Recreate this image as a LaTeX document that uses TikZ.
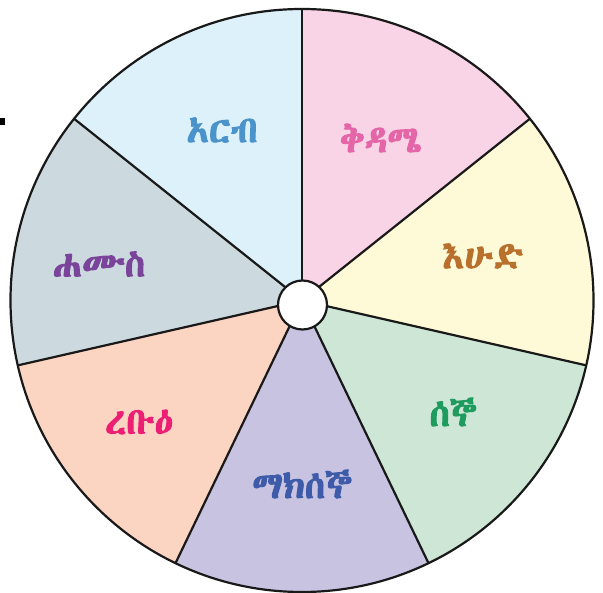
\documentclass[tikz,border=0pt]{standalone}
\usepackage{fontspec}
\IfFontExistsTF{Abyssinica SIL}{\newfontfamily\ethfont[FakeBold=2.5]{Abyssinica SIL}}{%
 \IfFontExistsTF{FreeSans}{\newfontfamily\ethfont[FakeBold=2.5]{FreeSans}}{%
  \IfFontExistsTF{FreeSerif}{\newfontfamily\ethfont[FakeBold=2.5]{FreeSerif}}{\newfontfamily\ethfont[FakeBold=2.5]{DejaVu Sans}}}}
\definecolor{fri}{HTML}{DDF1FA}
\definecolor{sat}{HTML}{F9D3E6}
\definecolor{sun}{HTML}{FEF9D6}
\definecolor{mon}{HTML}{CDE6D5}
\definecolor{tue}{HTML}{C7C3E1}
\definecolor{wed}{HTML}{FCD4C2}
\definecolor{thu}{HTML}{CCDADF}
\definecolor{frit}{HTML}{4A93CB}
\definecolor{satt}{HTML}{E566A8}
\definecolor{sunt}{HTML}{B8702C}
\definecolor{mont}{HTML}{1E9B5E}
\definecolor{tuet}{HTML}{3E5BA9}
\definecolor{wedt}{HTML}{EC1F75}
\definecolor{thut}{HTML}{7A449B}
\tikzset{
  day/.style={font=\ethfont\fontsize{37}{40}\selectfont, inner sep=0pt, anchor=center}
}
\begin{document}
\begin{tikzpicture}[x=1pt,y=1pt]
\useasboundingbox (0,0) rectangle (603,-593);
\coordinate (C) at (302,-300.5);
\def\R{291.5pt}
\foreach \i/\col in {0/sat,1/sun,2/mon,3/tue,4/wed,5/thu,6/fri}{
  \pgfmathsetmacro{\a}{90-\i*360/7}
  \pgfmathsetmacro{\b}{90-(\i+1)*360/7}
  \fill[\col] (C) -- ++(\a:\R) arc[start angle=\a, end angle=\b, radius=\R] -- cycle;
}
\foreach \i in {0,...,6}{
  \pgfmathsetmacro{\a}{90-\i*360/7}
  \draw[black!90, line width=2.2pt] (C) -- ++(\a:\R);
}
\draw[black!90, line width=2.2pt] (C) circle[radius=\R];
\node[circle, draw=black!90, line width=2.2pt, fill=white, minimum size=49pt, inner sep=0pt] (hub) at (302.5,-305) {};
\node[day, text=frit] (fri) at (222,-130) {አርብ};
\node[day, text=satt] (sat) at (381,-138) {ቅዳሜ};
\node[day, text=sunt] (sun) at (483,-256) {እሁድ};
\node[day, text=mont] (mon) at (453,-412) {ሰኞ};
\node[day, text=tuet] (tue) at (302,-484) {ማክሰኞ};
\node[day, text=wedt] (wed) at (139,-422) {ረቡዕ};
\node[day, text=thut] (thu) at (99,-264) {ሐሙስ};
\fill[black] (0,-118) rectangle (4.5,-125);
\end{tikzpicture}
\end{document}
